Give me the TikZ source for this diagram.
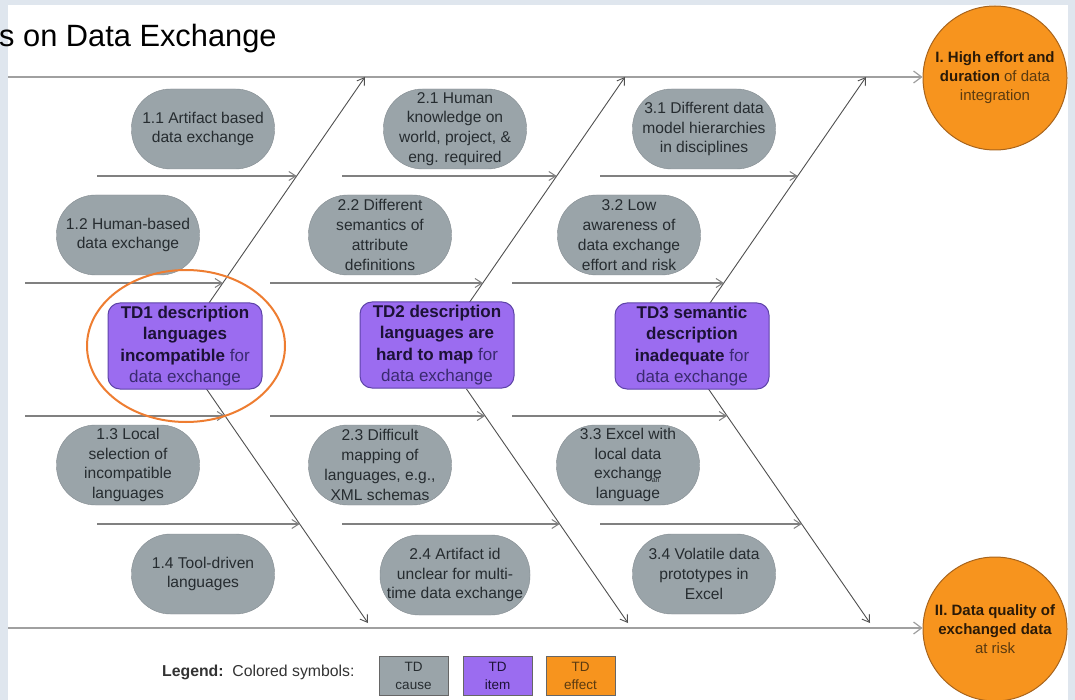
\documentclass[tikz,border=0pt]{standalone}
\usepackage{fontspec}
\setmainfont{Liberation Sans}
\usetikzlibrary{arrows.meta}
\definecolor{bg}{HTML}{DFE6EE}
\definecolor{causefill}{HTML}{9AA4A9}
\definecolor{causetext}{HTML}{262C30}
\definecolor{itemfill}{HTML}{9B6CF0}
\definecolor{itemdraw}{HTML}{5E44A8}
\definecolor{itemtext}{HTML}{1C1236}
\definecolor{itemtextl}{HTML}{3A2A70}
\definecolor{effectfill}{HTML}{F7941E}
\definecolor{effectdraw}{HTML}{A8641C}
\definecolor{effecttext}{HTML}{2A1A08}
\definecolor{effecttextl}{HTML}{5A3A10}
\definecolor{spinecol}{HTML}{A0A0A0}
\definecolor{bonecol}{HTML}{505050}
\definecolor{branchcol}{HTML}{808080}
\definecolor{ringcol}{HTML}{EE7D31}
\newcommand\itb[1]{\textcolor{itemtext}{\textbf{#1}}}
\newcommand\efb[1]{\textcolor{effecttext}{\textbf{#1}}}
\tikzset{
  cause/.style={fill=causefill, draw=causefill!85!black, line width=0.4pt,
    rounded corners=39pt, minimum width=143pt, minimum height=80pt,
    align=center, font=\fontsize{15.6}{19.8}\selectfont, text=causetext, inner sep=0pt},
  tditem/.style={fill=itemfill, draw=itemdraw, line width=1pt, rounded corners=12pt,
    minimum width=154pt, minimum height=86pt, align=center,
    font=\fontsize{17}{21.5}\selectfont, text=itemtextl, inner sep=0pt},
  effect/.style={circle, fill=effectfill, draw=effectdraw, line width=1pt,
    minimum size=144pt, align=center, font=\fontsize{15}{19}\selectfont,
    text=effecttextl, inner sep=0pt},
  spine/.style={draw=spinecol, line width=2.5pt, -{Straight Barb[length=8pt,width=12pt,line width=1.2pt]}},
  bone/.style={draw=bonecol, line width=0.9pt, -{Straight Barb[length=7pt,width=9pt,line width=0.9pt]}},
  branch/.style={draw=branchcol, line width=1.8pt, -{Straight Barb[length=7pt,width=9pt,line width=1pt]}},
  legbox/.style={draw=black!60, line width=1pt, minimum width=69pt, minimum height=39pt,
    align=center, font=\fontsize{13.5}{18}\selectfont, inner sep=0pt},
}
\begin{document}
\begin{tikzpicture}[x=1pt,y=-1pt]
\useasboundingbox (0,0) rectangle (1075,700);
\clip (0,0) rectangle (1075,700);
\fill[bg] (0,0) rectangle (1075,700);
\fill[white] (8,5) rectangle (1068,700);

% title
\node[anchor=base west, inner sep=0pt, font=\fontsize{30.8}{31}\selectfont] (title) at (-1,47) {s on Data Exchange};

% effects
\node[effect] (e1) at (995,78) {\efb{I. High effort and}\\\efb{duration} of data\\integration};
\node[effect] (e2) at (995,629) {\efb{II. Data quality of}\\\efb{exchanged data}\\at risk};

% spine coordinates
\coordinate (ts) at (8,77);
\coordinate (bs) at (8,628);
\draw[spine] (ts) -- (e1.west |- ts);
\draw[spine] (bs) -- (e2.west |- bs);

% bone coordinates (upper)
\coordinate (u1s) at (209,303); \coordinate (u1e) at (365,77);
\coordinate (u2s) at (469,303); \coordinate (u2e) at (625,77);
\coordinate (u3s) at (710,303); \coordinate (u3e) at (866,77);
% bone coordinates (lower)
\coordinate (l1s) at (206.5,389); \coordinate (l1e) at (368,623);
\coordinate (l2s) at (466.5,389); \coordinate (l2e) at (628,623);
\coordinate (l3s) at (708.5,389); \coordinate (l3e) at (870,623);
\draw[bone] (u1s) -- (u1e);
\draw[bone] (u2s) -- (u2e);
\draw[bone] (u3s) -- (u3e);
\draw[bone] (l1s) -- (l1e);
\draw[bone] (l2s) -- (l2e);
\draw[bone] (l3s) -- (l3e);

% branch arrows
\coordinate (a11) at (97,176);  \coordinate (b11) at (296.7,176);
\coordinate (a12) at (25,283);  \coordinate (b12) at (222.9,283);
\coordinate (a21) at (342,176); \coordinate (b21) at (556.7,176);
\coordinate (a22) at (270,283); \coordinate (b22) at (482.9,283);
\coordinate (a31) at (600,176); \coordinate (b31) at (797.7,176);
\coordinate (a32) at (512,283); \coordinate (b32) at (723.9,283);
\coordinate (a13) at (25,416);  \coordinate (b13) at (225,416);
\coordinate (a14) at (97,524);  \coordinate (b14) at (299.7,524);
\coordinate (a23) at (270,416); \coordinate (b23) at (485,416);
\coordinate (a24) at (342,524); \coordinate (b24) at (559.7,524);
\coordinate (a33) at (512,416); \coordinate (b33) at (727,416);
\coordinate (a34) at (600,524); \coordinate (b34) at (801.7,524);
\foreach \n in {11,12,21,22,31,32,13,14,23,24,33,34}
  \draw[branch] (a\n) -- (b\n);

% causes
\node[cause] (c11) at (203,129) {1.1 Artifact based\\data exchange};
\node[cause] (c12) at (128,235) {1.2 Human-based\\data exchange};
\node[cause] (c13) at (128,465) {1.3 Local\\selection of\\incompatible\\languages};
\node[cause] (c14) at (203,574) {1.4 Tool-driven\\languages};
\node[cause] (c21) at (455,129) {2.1 Human\\knowledge on\\world, project, \&\\eng. required};
\node[cause] (c22) at (380,235) {2.2 Different\\semantics of\\attribute\\definitions};
\node[cause] (c23) at (380,465) {2.3 Difficult\\mapping of\\languages, e.g.,\\XML schemas};
\node[cause, minimum width=150pt] (c24) at (455,575) {2.4 Artifact id\\unclear for multi-\\time data exchange};
\node[cause] (c31) at (704,129) {3.1 Different data\\model hierarchies\\in disciplines};
\node[cause] (c32) at (629,235) {3.2 Low\\awareness of\\data exchange\\effort and risk};
\node[cause] (c33) at (628,465) {3.3 Excel with\\local data\\exchange\rlap{\kern-10pt\raisebox{-4pt}{\fontsize{7}{7}\selectfont an}}\\language};
\node[cause] (c34) at (704,574) {3.4 Volatile data\\prototypes in\\Excel};

% TD items
\node[tditem] (td1) at (185,346) {\itb{TD1 description}\\\itb{languages}\\\itb{incompatible} for\\data exchange};
\node[tditem] (td2) at (437,345) {\itb{TD2 description}\\\itb{languages are}\\\itb{hard to map} for\\data exchange};
\node[tditem] (td3) at (692,346) {\itb{TD3 semantic}\\\itb{description}\\\itb{inadequate} for\\data exchange};

% highlight ring
\draw[ringcol, line width=2pt] (186,346) ellipse [x radius=99, y radius=76];

% legend
\node[anchor=west, inner sep=0pt, font=\fontsize{15.8}{18}\selectfont, text=black!80] (leg) at (162,672) {\textbf{Legend:}\ \ Colored symbols:};
\node[legbox, fill=causefill, text=causetext] (lg1) at (413.5,675.5) {TD\\cause};
\node[legbox, fill=itemfill, text=itemtext] (lg2) at (497.5,675.5) {TD\\item};
\node[legbox, fill=effectfill, text=effecttextl] (lg3) at (580.5,675.5) {TD\\effect};
\end{tikzpicture}
\end{document}
